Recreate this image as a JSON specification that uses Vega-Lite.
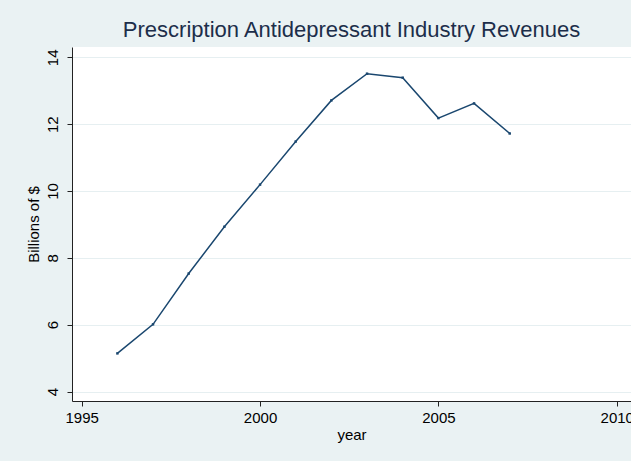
{
  "$schema": "https://vega.github.io/schema/vega-lite/v6.json",
  "width": 559,
  "height": 354,
  "autosize": {"type": "none"},
  "padding": {"left": 72, "top": 47, "right": 0, "bottom": 60},
  "background": "#EAF2F3",
  "config": {
    "view": {"stroke": null, "fill": "white"},
    "font": "Liberation Sans"
  },
  "title": {
    "text": "Prescription Antidepressant Industry Revenues",
    "fontSize": 22,
    "font": "Liberation Sans",
    "fontWeight": "normal",
    "color": "#1C2E4A",
    "anchor": "middle",
    "baseline": "alphabetic",
    "offset": -12
  },
  "data": {
    "values": [
      {"year": 1996, "revenue": 5.14},
      {"year": 1997, "revenue": 6.01},
      {"year": 1998, "revenue": 7.53},
      {"year": 1999, "revenue": 8.93},
      {"year": 2000, "revenue": 10.19},
      {"year": 2001, "revenue": 11.48},
      {"year": 2002, "revenue": 12.71},
      {"year": 2003, "revenue": 13.51},
      {"year": 2004, "revenue": 13.39},
      {"year": 2005, "revenue": 12.18},
      {"year": 2006, "revenue": 12.62},
      {"year": 2007, "revenue": 11.72}
    ]
  },
  "encoding": {
    "x": {
      "field": "year",
      "type": "quantitative",
      "scale": {"domain": [1994.728, 2010.4], "nice": false, "zero": false},
      "axis": {
        "values": [1995, 2000, 2005, 2010],
        "format": "d",
        "title": "year",
        "grid": false,
        "tickSize": 5,
        "labelPadding": 4,
        "labelFontSize": 15,
        "titleFontSize": 15,
        "titleFontWeight": "normal",
        "titlePadding": 2,
        "domainColor": "#222222",
        "tickColor": "#222222",
        "labelColor": "black",
        "titleColor": "black",
        "labelFlush": false,
        "labelOverlap": false
      }
    },
    "y": {
      "field": "revenue",
      "type": "quantitative",
      "scale": {"domain": [3.716, 14.308], "nice": false, "zero": false},
      "axis": {
        "values": [4, 6, 8, 10, 12, 14],
        "title": "Billions of $",
        "grid": true,
        "gridColor": "#E6EFF1",
        "gridWidth": 1,
        "tickSize": 5,
        "labelAngle": -90,
        "labelAlign": "center",
        "labelBaseline": "bottom",
        "labelPadding": 7,
        "labelFontSize": 15,
        "titleFontSize": 15,
        "titleFontWeight": "normal",
        "titlePadding": 4,
        "domainColor": "#222222",
        "tickColor": "#222222",
        "labelColor": "black",
        "titleColor": "black",
        "labelOverlap": false
      }
    }
  },
  "layer": [
    {"mark": {"type": "line", "color": "#1A476F", "strokeWidth": 1.5}},
    {"mark": {"type": "point", "shape": "square", "filled": true, "size": 6, "color": "#1A476F", "opacity": 1}}
  ]
}
